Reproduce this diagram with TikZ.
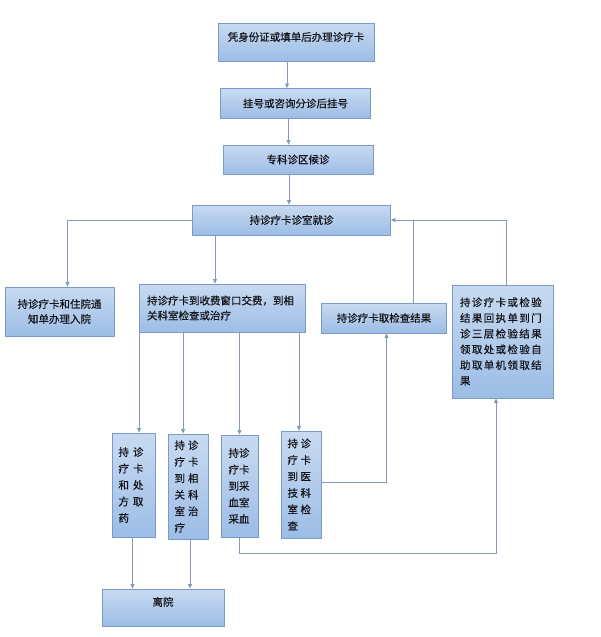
\documentclass[tikz,border=0pt]{standalone}
\usepackage{fontspec}
\newfontfamily\cjk[FakeBold=0.4]{Noto Sans CJK SC}
\newfontfamily\cjkwide[LetterSpace=13,FakeBold=0.4]{Noto Sans CJK SC}
\usetikzlibrary{arrows.meta}
\definecolor{boxline}{RGB}{122,154,200}
\definecolor{boxtop}{RGB}{200,218,241}
\definecolor{boxbot}{RGB}{156,189,230}
\definecolor{linkcol}{RGB}{134,152,184}
\definecolor{textcol}{RGB}{20,20,25}
\begin{document}
\begin{tikzpicture}[x=1pt,y=-1pt,
    box/.style={draw=boxline,line width=0.8pt,top color=boxtop,bottom color=boxbot,inner sep=0pt,text=textcol,font=\cjk\fontsize{10.5}{15}\selectfont},
    col/.style={box,align=left,inner xsep=6.5pt,font=\cjk\fontsize{10.5}{16.5}\selectfont},
    link/.style={draw=linkcol,line width=0.8pt},
    tip/.style={-{Triangle[width=4pt,length=4.5pt]}}]
        \useasboundingbox (0,0) rectangle (600,637);
        \node[box,minimum width=156,minimum height=38,text height=18pt,text depth=20pt] (card) at (296,42) {凭身份证或填单后办理诊疗卡};
        \node[box,minimum width=150,minimum height=30] (reg) at (295.5,103.5) {挂号或咨询分诊后挂号};
        \node[box,minimum width=150,minimum height=29] (wait) at (298,159.5) {专科诊区候诊};
        \node[box,minimum width=198,minimum height=30] (visit) at (291.5,220) {持诊疗卡诊室就诊};
        \node[box,minimum width=109,minimum height=49,align=center] (hosp) at (59.5,311.5) {持诊疗卡和住院通\\知单办理入院};
        \node[box,minimum height=48,text width=150,inner xsep=8pt,align=left] (pay) at (222,308) {持诊疗卡到收费窗口交费，到相\\关科室检查或治疗};
        \node[box,minimum width=125,minimum height=30] (exam) at (384,318) {持诊疗卡取检查结果};
        \node[box,minimum height=113,text width=85,inner xsep=8pt,align=left,font=\cjkwide\fontsize{10.5}{15.7}\selectfont] (result) at (502.5,341.5) {持诊疗卡或检验\\结果回执单到门\\诊三层检验结果\\领取处或检验自\\助取单机领取结\\果};
        \node[col,minimum height=104,text width=30] (drug) at (133.5,485) {持\hspace{4pt}诊\\疗\hspace{4pt}卡\\和\hspace{4pt}处\\方\hspace{4pt}取\\药};
        \node[col,minimum height=105,text width=27] (treat) at (188,486.5) {持\hspace{3pt}诊\\疗\hspace{3pt}卡\\到\hspace{3pt}相\\关\hspace{3pt}科\\室\hspace{3pt}治\\疗};
        \node[col,minimum height=102,text width=22,inner xsep=7.5pt] (blood) at (239.5,486) {持诊\\疗卡\\到采\\血室\\采血};
        \node[col,minimum height=107,text width=27] (tech) at (301,484.5) {持\hspace{2.5pt}诊\\疗\hspace{2.5pt}卡\\到\hspace{2.5pt}医\\技\hspace{2.5pt}科\\室\hspace{2.5pt}检\\查};
        \node[box,minimum width=122,minimum height=37,text height=17pt,text depth=20pt] (leave) at (163,607.5) {离院};
        % main column
        \draw[link,tip] ([xshift=-9]card.south) -- ([xshift=-9]card.south |- reg.north);
        \draw[link,tip] ([xshift=-7]reg.south) -- ([xshift=-7]reg.south |- wait.north);
        \draw[link,tip] ([xshift=-9]wait.south) -- ([xshift=-9]wait.south |- visit.north);
        \draw[link,tip] (visit.west) -| ([xshift=8]hosp.north);
        \draw[link,tip] ([xshift=-7]pay.north |- visit.south) -- ([xshift=-7]pay.north);
        % results back to the doctor
        \draw[link] ([xshift=29]exam.north) -- ([xshift=29]exam.north |- visit.east);
        \draw[link,tip] ([xshift=4]result.north) |- (visit.east);
        % after paying
        \draw[link,tip] ([xshift=5.5]drug.north |- pay.south) -- ([xshift=5.5]drug.north);
        \draw[link,tip] ([xshift=-5]treat.north |- pay.south) -- ([xshift=-5]treat.north);
        \draw[link,tip] (blood.north |- pay.south) -- (blood.north);
        \draw[link,tip] ([xshift=-2]tech.north |- pay.south) -- ([xshift=-2]tech.north);
        \draw[link,tip] ([yshift=2.5]tech.east) -| ([xshift=2.5]exam.south);
        \draw[link,tip] (blood.south) -- ++(0,16) -| ([xshift=-6.5]result.south);
        \draw[link,tip] ([xshift=-1]drug.south) -- ([xshift=-1]drug.south |- leave.north);
        \draw[link,tip] ([xshift=2]treat.south) -- ([xshift=2]treat.south |- leave.north);
\end{tikzpicture}
\end{document}
